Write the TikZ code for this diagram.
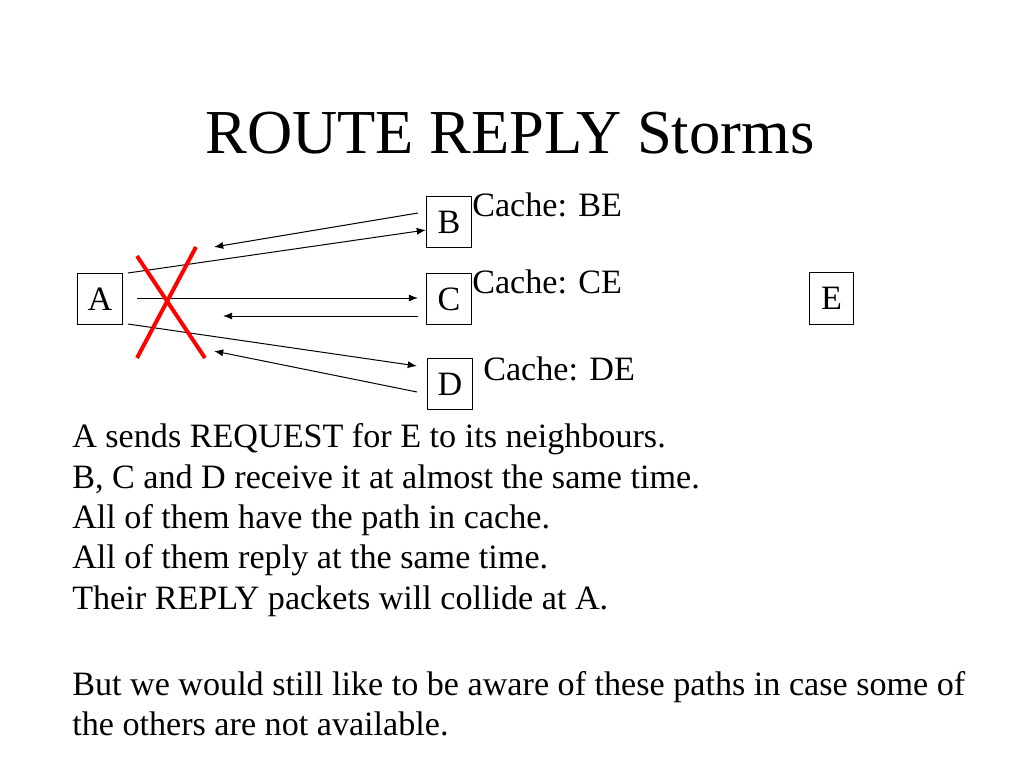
\documentclass[tikz,border=0pt]{standalone}
\usepackage{fontspec}
\setmainfont{Liberation Serif}
\usetikzlibrary{arrows.meta}

\tikzset{
  nodebox/.style={draw, line width=0.7pt, minimum width=31pt, minimum height=36.5pt, inner sep=0pt, font=\fontsize{24}{28.8}\selectfont},
  cachelabel/.style={anchor=base west, inner sep=0pt, font=\fontsize{24}{28.8}\selectfont},
  bodyline/.style={anchor=base west, inner sep=0pt, font=\fontsize{24}{28.8}\selectfont},
  msg/.style={line width=0.7pt, -{Latex[length=6.5pt,width=5pt]}},
  cross/.style={red, line width=2.8pt}
}

\begin{document}
\begin{tikzpicture}[x=0.703125pt, y=-0.703125pt]
\useasboundingbox (0,0) rectangle (1024,768);
\node[anchor=base, inner sep=0pt, font=\fontsize{44}{52.8}\selectfont] (title) at (510,154) {ROUTE REPLY Storms};

\node[nodebox] (A) at (100,299) {A};
\node[nodebox] (B) at (449,222) {B};
\node[nodebox] (C) at (449,299) {C};
\node[nodebox] (D) at (450,384) {D};
\node[nodebox] (E) at (831.5,298.5) {E};

\node[cachelabel] (cb) at (472,217) {Cache: BE};
\node[cachelabel] (cc) at (472,293) {Cache: CE};
\node[cachelabel] (cd) at (483,380) {Cache: DE};

% ends of the messages
\coordinate (ab0) at (128,273);
\coordinate (ab1) at (426,230);
\coordinate (ba0) at (418,213);
\coordinate (ba1) at (214,247);
\coordinate (ac0) at (137,298);
\coordinate (ac1) at (418,298);
\coordinate (ca0) at (418,316);
\coordinate (ca1) at (223,316);
\coordinate (ad0) at (128,324);
\coordinate (ad1) at (417,366);
\coordinate (da0) at (417,392);
\coordinate (da1) at (214,351);

\draw[msg] (ab0) -- (ab1);
\draw[msg] (ba0) -- (ba1);
\draw[msg] (ac0) -- (ac1);
\draw[msg] (ca0) -- (ca1);
\draw[msg] (ad0) -- (ad1);
\draw[msg] (da0) -- (da1);

% collision
\coordinate (x1) at (137,256);
\coordinate (x2) at (205,358);
\coordinate (x3) at (196,247);
\coordinate (x4) at (137,358);
\draw[cross] (x1) -- (x2);
\draw[cross] (x3) -- (x4);

\node[bodyline] (t1) at (72,447) {A sends REQUEST for E to its neighbours.};
\node[bodyline] (t2) at (72,488) {B, C and D receive it at almost the same time.};
\node[bodyline] (t3) at (72,528) {All of them have the path in cache.};
\node[bodyline] (t4) at (72,568) {All of them reply at the same time.};
\node[bodyline] (t5) at (72,609) {Their REPLY packets will collide at A.};
\node[bodyline] (t6) at (72,695) {But we would still like to be aware of these paths in case some of};
\node[bodyline] (t7) at (72,735) {the others are not available.};
\end{tikzpicture}
\end{document}
